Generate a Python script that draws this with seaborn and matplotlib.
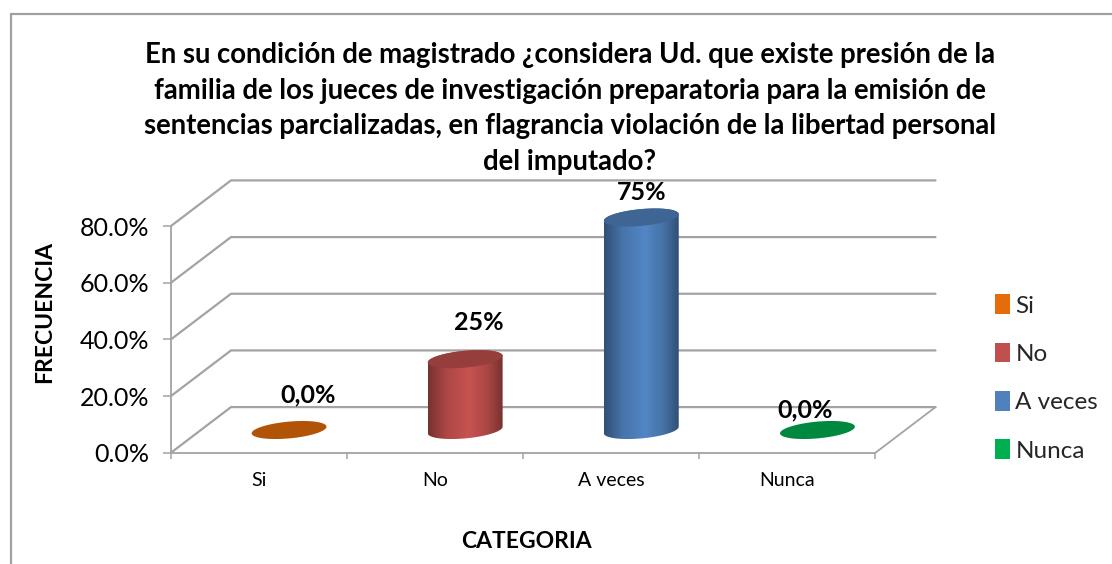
import numpy as np
import pandas as pd
import matplotlib
matplotlib.use('Agg')
import matplotlib.pyplot as plt
import seaborn as sns
from matplotlib.colors import to_rgb, LinearSegmentedColormap
from matplotlib.patches import Polygon, Patch
from matplotlib.transforms import IdentityTransform

titulo = ('En su condición de magistrado ¿considera Ud. que existe presión de la\n'
          'familia de los jueces de investigación preparatoria para la emisión de\n'
          'sentencias parcializadas, en flagrancia violación de la libertad personal\n'
          'del imputado?')
categorias = ['Si', 'No', 'A veces', 'Nunca']
valores = [0.0, 25.0, 75.0, 0.0]
etiquetas = ['0,0%', '25%', '75%', '0,0%']
colores = ['#E46C0A', '#C0504D', '#4F81BD', '#00B050']
ticks_y = [0, 20, 40, 60, 80]

W, H = 1112, 564
GRIS = '#A3A3A3'

sns.set_theme(style='white')
plt.rcParams['font.family'] = ['Lato', 'DejaVu Sans']

df = pd.DataFrame({'categoria': categorias, 'valor': valores})

fig = plt.figure(figsize=(W / 100, H / 100), dpi=100)


def caja(x0, x1, y_top, y_bot):
    return [x0 / W, 1 - y_bot / H, (x1 - x0) / W, (y_bot - y_top) / H]


# plano frontal, con los ejes
ax = fig.add_axes(caja(171, 875.5, 226, 452.7))
ax.set_xlim(-0.5, 3.5)
ax.set_ylim(0, 80)
ax.patch.set_alpha(0)
for s in ax.spines.values():
    s.set_visible(False)
ax.spines['left'].set_visible(True)
ax.spines['bottom'].set_visible(True)
ax.spines['left'].set_color(GRIS)
ax.spines['bottom'].set_color(GRIS)
ax.spines['left'].set_linewidth(1.3)
ax.spines['bottom'].set_linewidth(1.3)

ax.set_yticks(ticks_y)
ax.set_yticklabels([f'{v:.1f}%' for v in ticks_y], fontsize=18, color='black')
ax.tick_params(axis='y', left=True, length=5.5, width=1.1, color=GRIS, pad=10)
ax.set_xticks(np.arange(-0.5, 4, 1))
ax.set_xticklabels([])
ax.tick_params(axis='x', bottom=True, length=4, width=1.1, color=GRIS)
for i, c in enumerate(categorias):
    ax.annotate(c, (i, 0), xytext=(0, -28), textcoords='offset pixels',
                ha='center', va='center', fontsize=14, color='black')

# paredes: diagonales y lineas del fondo
DX, DY = 60, 45.6
for v in ticks_y:
    x0, y0 = ax.transData.transform((-0.5, v))
    x1, y1 = ax.transData.transform((3.5, v))
    ax.plot([x0, x0 + DX, x1 + DX], [y0, y0 + DY, y1 + DY], color=GRIS, lw=1.6,
            transform=IdentityTransform(), clip_on=False)
xa, ya = ax.transData.transform((3.5, 0))
ax.plot([xa, xa + DX], [ya, ya + DY], color=GRIS, lw=1.3,
        transform=IdentityTransform(), clip_on=False)

# barras, a media profundidad
ax2 = fig.add_axes(caja(171 + 30, 875.5 + 30, 226 - 22.7, 452.7 - 22.7))
sns.barplot(data=df, x='categoria', y='valor', hue='categoria', palette=colores,
            order=categorias, hue_order=categorias, legend=False, width=0.425,
            saturation=1, dodge=False, ax=ax2)
ax2.set_xlim(-0.5, 3.5)
ax2.set_ylim(0, 80)
ax2.axis('off')

t = np.linspace(0, 2 * np.pi, 121)
for barra, color, etiqueta in zip(ax2.patches, colores, etiquetas):
    x, w, h = barra.get_x(), barra.get_width(), barra.get_height()
    (px0, py0), (px1, py1) = ax2.transData.transform([(x, 0), (x + w, h)])
    cx, a = (px0 + px1) / 2, (px1 - px0) / 2
    b, sesgo = 8.4, 3.3
    ex = cx + a * np.cos(t)
    ey = b * np.sin(t) + sesgo * np.cos(t)
    base = t > np.pi
    # cuerpo del cilindro con degradado horizontal
    cuerpo = np.vstack([
        np.column_stack([ex[t <= np.pi], py1 + ey[t <= np.pi]]),
        np.column_stack([ex[base], py0 + ey[base]]),
    ])
    rgb = np.array(to_rgb(color))
    cmap = LinearSegmentedColormap.from_list(
        'cil', [(0, rgb * 0.62), (0.25, rgb * 0.9), (0.55, np.minimum(rgb * 1.04, 1)),
                (0.8, rgb * 0.88), (1, rgb * 0.62)])
    barra.set_visible(False)
    if h > 0:
        y_ext = 12 * 80 / 226.7
        im = ax2.imshow(np.linspace(0, 1, 128).reshape(1, -1), cmap=cmap, aspect='auto',
                        extent=(x, x + w, -y_ext, h + y_ext), zorder=2)
        ax2.set_xlim(-0.5, 3.5)
        ax2.set_ylim(0, 80)
        im.set_clip_box(fig.bbox)
        im.set_clip_path(Polygon(cuerpo, closed=True, transform=IdentityTransform()))
    # tapa
    ax2.add_patch(Polygon(np.column_stack([ex, py1 + ey]), closed=True, facecolor=rgb * 0.78,
                          edgecolor='none', transform=IdentityTransform(), clip_on=False, zorder=3))

# etiquetas de datos (movidas a mano en el original)
despl = [(19, 35), (14, 37), (0, 25), (-12, 20)]
for i, (v, e) in enumerate(zip(valores, etiquetas)):
    ax2.annotate(e, (i, v), xytext=despl[i], textcoords='offset pixels', ha='center', va='center',
                 fontsize=18, fontweight='bold', color='black', annotation_clip=False, zorder=5)

# leyenda
handles = [Patch(facecolor=c, edgecolor='none', label=l) for c, l in zip(colores, categorias)]
fig.legend(handles=handles, loc='center left', bbox_to_anchor=(995 / W, 1 - 378 / H), frameon=False,
           fontsize=17.5, handlelength=0.62, handleheight=0.85, handletextpad=0.22, labelspacing=1.08,
           borderpad=0, borderaxespad=0)

fig.text(570 / W, 1 - 108.5 / H, titulo, ha='center', va='center', fontsize=19.8, fontweight='bold',
         linespacing=1.47, color='black')
fig.text(45 / W, 1 - 312 / H, 'FRECUENCIA', rotation=90, ha='center', va='center', fontsize=16.5,
         fontweight='bold', color='black')
fig.text(526 / W, 1 - 542 / H, 'CATEGORIA', ha='center', va='center', fontsize=16.5,
         fontweight='bold', color='black')

# marco del grafico
marco = {'color': '#A0A0A0', 'lw': 1.6, 'transform': fig.transFigure}
fig.add_artist(plt.Line2D([10.5 / W, 10.5 / W], [0, 1 - 13.5 / H], **marco))
fig.add_artist(plt.Line2D([10.5 / W, 1], [1 - 13.5 / H, 1 - 13.5 / H], **marco))

fig.savefig('out.png', dpi=100)
